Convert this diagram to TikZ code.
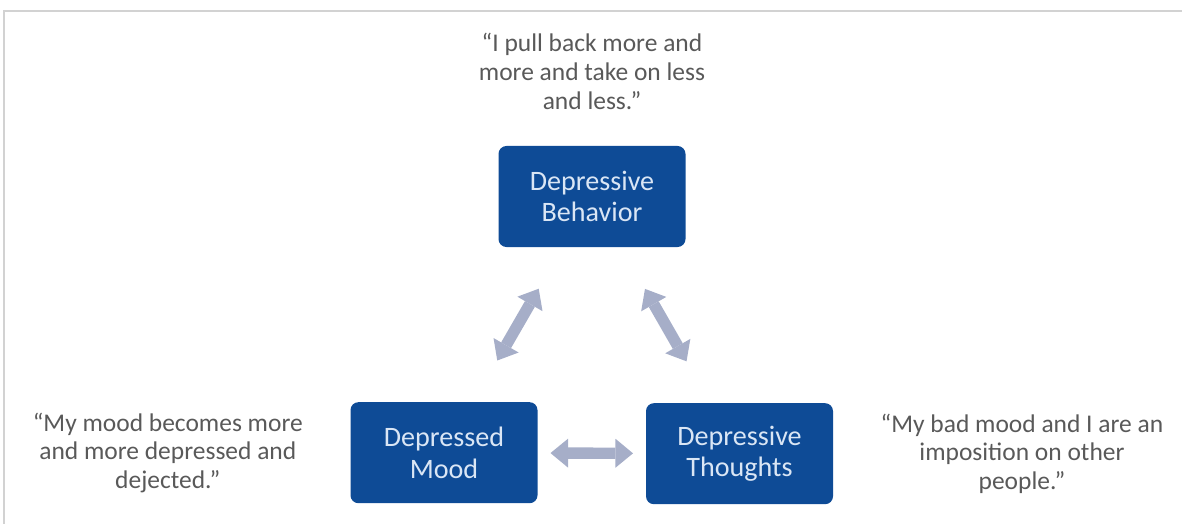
\documentclass[tikz,border=0pt]{standalone}
\usepackage{fontspec}
\setmainfont{Carlito}
\usetikzlibrary{arrows.meta,positioning}
\definecolor{cbtblue}{RGB}{14,75,150}
\definecolor{cbtlite}{RGB}{218,230,245}
\definecolor{cbtarr}{RGB}{166,174,200}
\definecolor{cbtgray}{RGB}{89,89,89}
\tikzset{
  cbox/.style={rectangle, rounded corners=4.5pt, minimum width=3.74cm, minimum height=2.02cm,
    align=center, fill=cbtblue, draw=none, text=cbtlite,
    font=\fontsize{16}{18}\selectfont, inner sep=1mm},
  quote/.style={align=center, text=cbtgray, inner sep=0pt,
    font=\fontsize{14.5}{16.3}\selectfont},
  carr/.style={{Triangle[length=10pt,width=16.5pt,line width=0pt]}-{Triangle[length=10pt,width=16.5pt,line width=0pt]},
    line width=6.5pt, draw=cbtarr, fill=cbtarr, shorten >=2.13cm, shorten <=2.13cm},
}
\begin{document}
\begin{tikzpicture}
    \useasboundingbox(0,0) rectangle (23.64,-10.48);
    \draw[gray!35, line width=0.6pt](0.08,-10.48) |- (23.64,-0.22);
    \node[cbox](behav) at (11.84,-3.93){Depressive\\Behavior};
    \node[cbox,below=3.09cm of behav.south,anchor=north,xshift=-2.96cm](mood){Depressed\\Mood};
    \node[cbox,below=3.11cm of behav.south,anchor=north,xshift=2.95cm](thought){Depressive\\Thoughts};
    \node[quote,above=0.72cm of behav](qb){“I pull back more and\\more and take on less\\and less.”};
    \node[quote,left=0.94cm of mood](qm){“My mood becomes more\\and more depressed and\\dejected.”};
    \node[quote,right=0.94cm of thought](qt){“My bad mood and I are an\\imposition on other\\people.”};
    \draw[carr](mood.center)--(behav.center);\draw[carr](thought.center)--(behav.center);\draw[carr](mood.center)--(thought.center);
  \end{tikzpicture}
\end{document}
